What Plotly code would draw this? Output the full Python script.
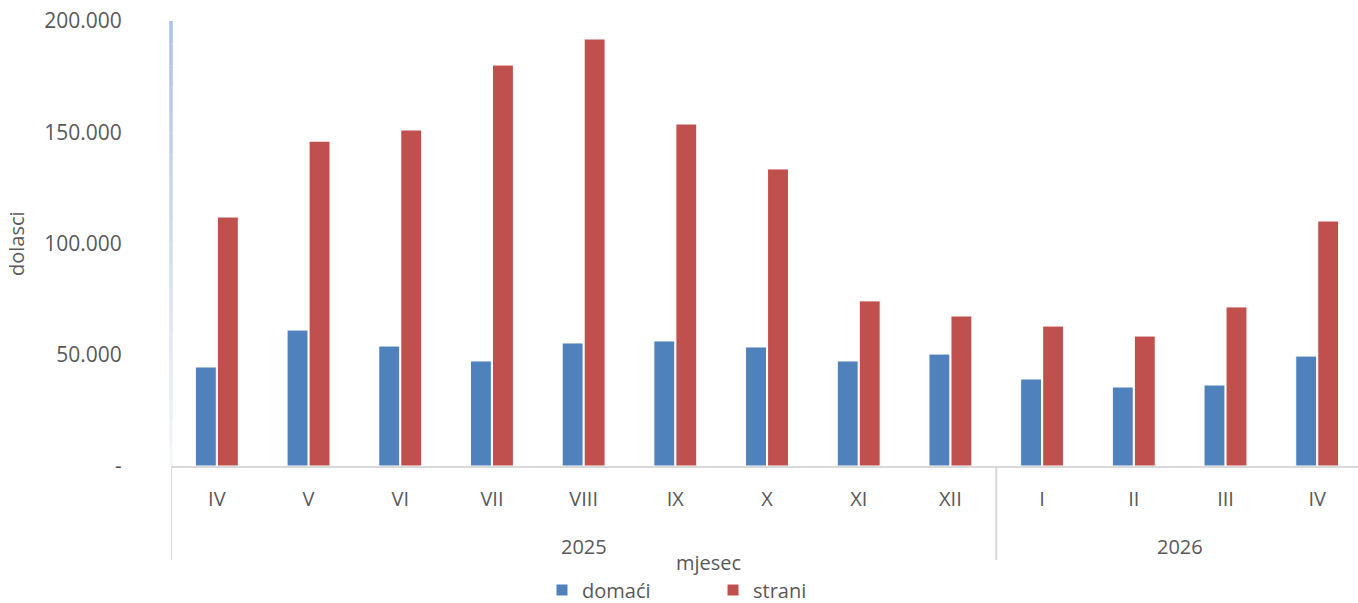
import plotly.graph_objects as go

months = ["IV", "V", "VI", "VII", "VIII", "IX", "X", "XI", "XII", "I", "II", "III", "IV"]
years = ["2025", "2026"]
year_counts = [9, 4]
domaci = [44500, 61100, 53900, 47200, 55300, 56200, 53500, 47200, 50300, 39100, 35500, 36400, 49400]
strani = [111900, 146000, 151000, 180200, 191900, 153700, 133500, 74200, 67400, 62900, 58400, 71500, 110100]
y_ticks = [0, 50000, 100000, 150000, 200000]
y_ticktext = ["-", "50.000", "100.000", "150.000", "200.000"]

FONT = "Open Sans"
GREY = "#595959"

x_idx = list(range(len(months)))

fig = go.Figure()
fig.add_trace(go.Bar(x=x_idx, y=domaci, name="domaći", marker=dict(color="#4f81bd", line=dict(color="white", width=1))))
fig.add_trace(go.Bar(x=x_idx, y=strani, name="strani", marker=dict(color="#c0504d", line=dict(color="white", width=1))))

W, H = 1358, 603
L, R, T = 171, 0, 21
B = H - 466
pw = W - L - R
ph = H - T - B

def px_to_paper_x(px):
    return (px - L) / pw

def px_to_paper_y(py):
    return (H - B - py) / ph

fig.update_layout(
    width=W, height=H,
    margin=dict(l=L, r=R, t=T, b=B, pad=0, autoexpand=False),
    plot_bgcolor="white", paper_bgcolor="white",
    barmode="group", bargap=0.52, bargroupgap=0.05,
    font=dict(family=FONT, size=20, color=GREY),
    showlegend=True,
    legend=dict(orientation="h", x=713 / W, xanchor="center",
                y=1 - 590 / H, yanchor="middle", yref="container", xref="container",
                font=dict(size=20, color=GREY), itemwidth=30, entrywidth=126, entrywidthmode="pixels",
                bgcolor="rgba(0,0,0,0)"),
)

fig.update_xaxes(
    tickmode="array", tickvals=x_idx, ticktext=months,
    range=[-0.5, 12.445], showgrid=False, zeroline=False,
    showline=True, linecolor="#d9d9d9", linewidth=2,
    ticks="outside", ticklen=14, tickcolor="rgba(0,0,0,0)",
    tickfont=dict(size=20, color=GREY), fixedrange=True,
)
fig.update_yaxes(
    range=[0, 200000], tickmode="array", tickvals=y_ticks, ticktext=y_ticktext,
    showgrid=False, zeroline=False, showline=False,
    ticks="outside", ticklen=44, tickcolor="rgba(0,0,0,0)",
    tickfont=dict(size=21, color=GREY), fixedrange=True,
)

# left axis line with light blue gradient (fading downward)
segs = 20
for i in range(segs):
    y0 = i / segs
    y1 = (i + 1) / segs
    a = 0.1 + 0.9 * y1
    fig.add_shape(type="line", xref="paper", yref="paper", x0=0, x1=0, y0=y0, y1=y1,
                  line=dict(color=f"rgba(170,195,228,{a:.3f})", width=3.5), layer="above")

# year separators
sep_bottom = px_to_paper_y(560)
bounds = [0]
for c in year_counts:
    bounds.append(bounds[-1] + c)
for b in bounds[:-1]:
    fig.add_shape(type="line", xref="x", yref="paper", x0=b - 0.5, x1=b - 0.5, y0=0, y1=sep_bottom,
                  line=dict(color="#d9d9d9", width=2))

# year labels
for yr, s, c in zip(years, bounds[:-1], year_counts):
    fig.add_annotation(x=s + (c - 1) / 2, y=px_to_paper_y(546), xref="x", yref="paper", text=yr,
                       showarrow=False, font=dict(size=20, color=GREY), yanchor="middle")

# axis titles
fig.add_annotation(x=px_to_paper_x(708), y=px_to_paper_y(562), xref="paper", yref="paper", text="mjesec",
                   showarrow=False, font=dict(size=20, color=GREY), yanchor="middle")
fig.add_annotation(x=px_to_paper_x(17), y=px_to_paper_y(244), xref="paper", yref="paper", text="dolasci",
                   showarrow=False, textangle=-90, font=dict(size=20, color=GREY), xanchor="center", yanchor="middle")

fig.write_html("out.html", config={"displayModeBar": False},
               post_script="document.body.style.margin='0';")
